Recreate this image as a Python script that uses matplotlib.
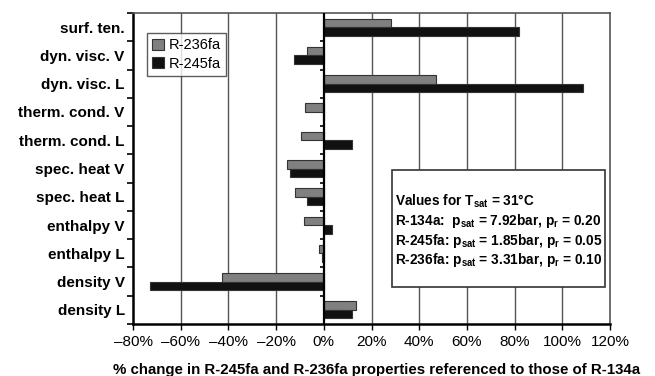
import matplotlib
matplotlib.use("Agg")
import matplotlib.pyplot as plt
import numpy as np
from matplotlib.patches import Rectangle
from matplotlib.ticker import FuncFormatter, FixedLocator

plt.rcParams['font.family'] = ['Liberation Sans', 'DejaVu Sans']
plt.rcParams['mathtext.fontset'] = 'custom'
plt.rcParams['mathtext.bf'] = 'Liberation Sans:bold'
plt.rcParams['mathtext.rm'] = 'Liberation Sans:bold'
plt.rcParams['mathtext.default'] = 'bf'

categories = ["surf. ten.", "dyn. visc. V", "dyn. visc. L", "therm. cond. V",
              "therm. cond. L", "spec. heat V", "spec. heat L", "enthalpy V",
              "enthalpy L", "density V", "density L"]
r236fa = [28, -7, 47, -8, -9.5, -15.5, -12, -8.5, -2, -42.5, 13.5]
r245fa = [82, -12.5, 108.5, -0.3, 12, -14, -7, 3.5, -0.8, -73, 12]
xticks = [-80, -60, -40, -20, 0, 20, 40, 60, 80, 100, 120]

fig = plt.figure(figsize=(6.55, 3.76), dpi=100)
ax = fig.add_axes([0.2031, 0.1383, 0.7282, 0.8271])

y = np.arange(len(categories))
h = 0.3
ax.barh(y - h / 2, r236fa, height=h, color='#808080', edgecolor='#333333', linewidth=0.8,
        label='R-236fa', zorder=3)
ax.barh(y + h / 2, r245fa, height=h, color='#111111', edgecolor='#333333', linewidth=0.8,
        label='R-245fa', zorder=3)

ax.set_xlim(-80, 120)
ax.set_ylim(len(categories) - 0.5, -0.5)
ax.set_xticks(xticks)
ax.xaxis.set_major_formatter(FuncFormatter(lambda v, p: f"{int(v)}%".replace('-', '\u2013')))
ax.set_yticks(y)
ax.set_yticklabels(categories, fontweight='bold', fontsize=11)
ax.tick_params(axis='y', which='major', length=0, pad=6)
ax.yaxis.set_minor_locator(FixedLocator(np.arange(-0.5, len(categories), 1.0)))
ax.tick_params(axis='y', which='minor', length=4, width=1.2, direction='out', color='black')
ax.tick_params(axis='x', which='major', length=4, width=1, direction='out', labelsize=11, pad=4)

for xv in xticks[1:-1]:
    if xv != 0:
        ax.axvline(xv, color='#555555', linewidth=1, zorder=1)
ax.axvline(0, color='black', linewidth=1.6, zorder=4)
# tick marks on the zero line
for b in np.arange(0.5, len(categories) - 0.5, 1.0):
    ax.plot([-1.6, 0], [b, b], color='black', linewidth=1.2, zorder=4, solid_capstyle='butt')

for s in ['left', 'bottom']:
    ax.spines[s].set_linewidth(1.8)
    ax.spines[s].set_color('black')
for s in ['top', 'right']:
    ax.spines[s].set_linewidth(1.2)
    ax.spines[s].set_color('#555555')

ax.set_xlabel("% change in R-245fa and R-236fa properties referenced to those of R-134a",
              fontweight='bold', fontsize=10.8, labelpad=5)
ax.xaxis.set_label_coords(0.51, -0.125)

leg = ax.legend(loc='upper left', bbox_to_anchor=(0.03, 0.935), fontsize=10.5,
                frameon=True, fancybox=False, edgecolor='#333333', handlelength=0.8,
                handleheight=0.8, handletextpad=0.3, borderpad=0.35, labelspacing=0.3,
                borderaxespad=0)
leg.get_frame().set_linewidth(1.0)

ax.add_patch(Rectangle((0.542, 0.118), 0.4475, 0.377, transform=ax.transAxes,
                       facecolor='white', edgecolor='#333333', linewidth=1.2, zorder=5))
lines = [r"Values for $\mathbf{T_{sat}}$ = 31°C",
         r"R-134a:  $\mathbf{p_{sat}}$ = 7.92bar, $\mathbf{p_{r}}$ = 0.20",
         r"R-245fa: $\mathbf{p_{sat}}$ = 1.85bar, $\mathbf{p_{r}}$ = 0.05",
         r"R-236fa: $\mathbf{p_{sat}}$ = 3.31bar, $\mathbf{p_{r}}$ = 0.10"]
ys = [0.393, 0.33, 0.266, 0.207]
for t, yy in zip(lines, ys):
    ax.text(0.549, yy, t, transform=ax.transAxes, fontsize=9.8, fontweight='bold',
            va='center', ha='left', zorder=6)

fig.savefig("out.png", dpi=100)
